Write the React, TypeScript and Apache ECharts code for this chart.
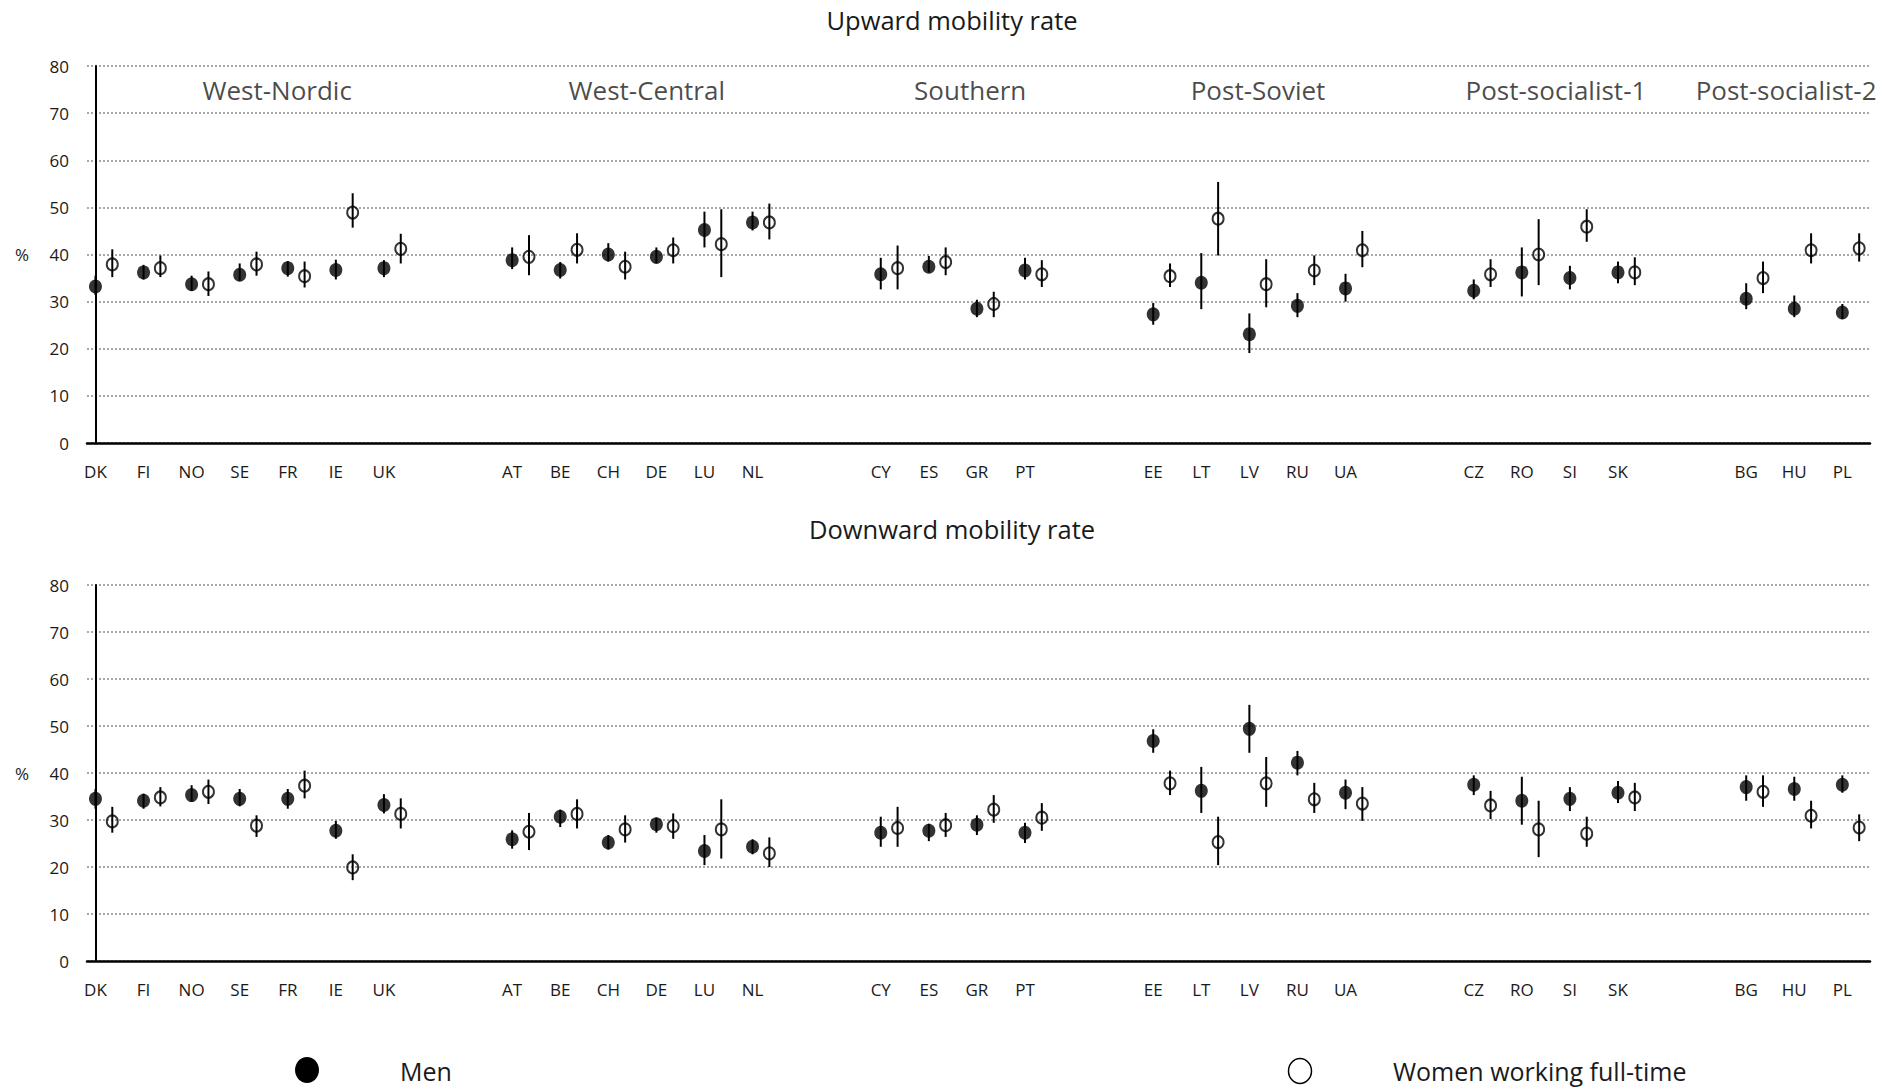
import React, { useEffect, useRef } from "react";
import * as echarts from "echarts";

// ---------- DATA ----------
const groupNames = ["West-Nordic", "West-Central", "Southern", "Post-Soviet", "Post-socialist-1", "Post-socialist-2"];
const groupCountries = [
  ["DK", "FI", "NO", "SE", "FR", "IE", "UK"],
  ["AT", "BE", "CH", "DE", "LU", "NL"],
  ["CY", "ES", "GR", "PT"],
  ["EE", "LT", "LV", "RU", "UA"],
  ["CZ", "RO", "SI", "SK"],
  ["BG", "HU", "PL"],
];
const yTicks = [0, 10, 20, 30, 40, 50, 60, 70, 80];

// Upward mobility rate
const upMen = [33.2, 36.2, 33.7, 35.7, 37.1, 36.7, 37.1, 38.8, 36.7, 40.0, 39.5, 45.2, 46.8, 35.8, 37.4, 28.5, 36.6, 27.3, 34.0, 23.1, 29.1, 32.8, 32.3, 36.2, 35.0, 36.2, 30.6, 28.5, 27.7];
const upMenLo = [31.4, 34.7, 32.3, 34.4, 35.3, 34.7, 35.2, 36.9, 34.9, 38.5, 38.1, 41.5, 45.1, 32.6, 36.2, 26.7, 34.7, 25.1, 28.4, 19.1, 26.7, 30.0, 30.5, 31.1, 32.6, 33.9, 28.4, 26.7, 26.3];
const upMenHi = [35.5, 37.8, 35.5, 38.1, 38.6, 38.9, 38.8, 41.5, 38.4, 42.4, 41.5, 49.1, 49.1, 39.3, 39.7, 30.4, 39.3, 29.7, 40.3, 27.5, 31.8, 35.9, 34.7, 41.5, 37.6, 38.5, 33.9, 31.3, 29.5];
const upWomen = [37.9, 37.1, 33.7, 37.9, 35.4, 48.9, 41.2, 39.5, 41.0, 37.4, 40.9, 42.2, 46.8, 37.1, 38.4, 29.5, 35.8, 35.4, 47.6, 33.7, 36.6, 40.9, 35.8, 40.0, 45.9, 36.2, 35.0, 40.9, 41.3];
const upWomenLo = [35.2, 35.2, 31.2, 35.5, 33.0, 45.7, 38.1, 35.6, 38.1, 34.7, 38.1, 35.2, 43.2, 32.6, 35.6, 26.7, 33.1, 33.1, 39.8, 28.8, 33.5, 37.3, 33.1, 33.5, 42.7, 33.5, 31.8, 38.1, 38.5];
const upWomenHi = [41.1, 39.8, 36.4, 40.6, 38.5, 53.0, 44.4, 44.1, 44.5, 40.6, 43.6, 49.6, 50.8, 41.9, 41.5, 32.1, 38.8, 38.1, 55.4, 39.0, 39.8, 45.0, 39.0, 47.5, 49.6, 39.4, 38.5, 44.5, 44.5];

// Downward mobility rate
const downMen = [34.5, 34.1, 35.3, 34.5, 34.5, 27.7, 33.2, 25.9, 30.7, 25.2, 29.1, 23.4, 24.3, 27.3, 27.7, 29.0, 27.3, 46.8, 36.2, 49.4, 42.2, 35.8, 37.5, 34.1, 34.5, 35.8, 37.0, 36.6, 37.5];
const downMenLo = [32.4, 32.4, 33.9, 32.9, 32.4, 26.0, 31.4, 23.9, 28.5, 23.7, 27.3, 20.4, 22.7, 24.3, 25.5, 26.8, 25.1, 44.3, 31.5, 44.3, 39.5, 32.3, 35.3, 29.0, 31.9, 33.6, 34.1, 34.1, 35.8];
const downMenHi = [36.6, 35.6, 37.4, 36.6, 36.6, 29.8, 35.5, 27.8, 32.2, 26.8, 30.5, 26.8, 25.9, 30.7, 29.2, 31.0, 29.4, 49.3, 41.3, 54.5, 44.7, 38.6, 39.5, 39.2, 37.0, 38.3, 39.5, 39.2, 39.5];
const downWomen = [29.7, 34.8, 36.0, 28.8, 37.3, 19.9, 31.3, 27.5, 31.3, 28.0, 28.7, 28.0, 22.9, 28.3, 28.9, 32.2, 30.5, 37.8, 25.3, 37.8, 34.4, 33.5, 33.1, 28.0, 27.1, 34.8, 36.0, 30.9, 28.4];
const downWomenLo = [27.3, 32.9, 33.4, 26.4, 34.6, 17.2, 28.2, 23.6, 28.2, 25.2, 26.0, 21.8, 20.0, 24.3, 26.4, 29.4, 27.7, 35.3, 20.4, 32.8, 31.5, 29.8, 30.2, 22.1, 24.3, 31.9, 32.8, 28.2, 25.5];
const downWomenHi = [32.8, 37.0, 38.6, 31.0, 40.5, 22.7, 34.6, 31.5, 34.4, 31.0, 31.4, 34.4, 26.3, 32.8, 31.5, 35.3, 33.6, 40.5, 30.7, 43.4, 37.9, 37.0, 36.2, 34.1, 30.7, 37.9, 39.5, 34.1, 31.2];

// ---------- LAYOUT ----------
const GROUP_GAP = 2.667;
const WOMEN_OFFSET = 0.35;
const X_MIN = -0.176;
const X_MAX = 36.91;
const GROUP_LABEL_SHIFT = [3.78, 2.8, 1.86, 2.18, 1.71, 0.83];
const FONT = "'Open Sans', 'Noto Sans', sans-serif";
const TXT = "#1a1a1a";

const countries: string[] = [];
const positions: number[] = [];
const groupStart: number[] = [];
{
  let p = 0;
  groupCountries.forEach((g) => {
    groupStart.push(p);
    g.forEach((c) => {
      countries.push(c);
      positions.push(p);
      p += 1;
    });
    p += GROUP_GAP - 1;
  });
}

function errData(lo: number[], hi: number[], off: number) {
  return lo.map((l, i) => [positions[i] + off, l, hi[i]]);
}
function ptData(v: number[], off: number) {
  return v.map((y, i) => [positions[i] + off, y]);
}

const errRender = (params: any, api: any) => {
  const x = api.value(0);
  const a = api.coord([x, api.value(1)]);
  const b = api.coord([x, api.value(2)]);
  return {
    type: "line",
    shape: { x1: a[0], y1: a[1], x2: b[0], y2: b[1] },
    style: { stroke: "#000", lineWidth: 2 },
  };
};

function panelSeries(idx: number, men: number[], menLo: number[], menHi: number[], women: number[], wLo: number[], wHi: number[]) {
  return [
    {
      type: "custom",
      xAxisIndex: idx,
      yAxisIndex: idx,
      renderItem: errRender,
      encode: { x: 0, y: [1, 2] },
      data: errData(menLo, menHi, 0),
      silent: true,
      z: 3,
    },
    {
      type: "custom",
      xAxisIndex: idx,
      yAxisIndex: idx,
      renderItem: errRender,
      encode: { x: 0, y: [1, 2] },
      data: errData(wLo, wHi, WOMEN_OFFSET),
      silent: true,
      z: 3,
    },
    {
      type: "scatter",
      name: "Men",
      xAxisIndex: idx,
      yAxisIndex: idx,
      symbol: "circle",
      symbolSize: [13, 14],
      itemStyle: { color: "#000" },
      data: ptData(men, 0),
      z: 4,
    },
    {
      type: "scatter",
      name: "Women working full-time",
      xAxisIndex: idx,
      yAxisIndex: idx,
      symbol: "circle",
      symbolSize: [11, 12],
      itemStyle: { color: "rgba(0,0,0,0)", borderColor: "#000", borderWidth: 2 },
      data: ptData(women, WOMEN_OFFSET),
      z: 4,
    },
  ];
}

function xAxisDef(gridIndex: number) {
  return {
    type: "value",
    gridIndex,
    min: X_MIN,
    max: X_MAX,
    splitLine: { show: false },
    axisTick: { show: false },
    axisLine: { show: true, onZero: false, lineStyle: { color: "#000", width: 2.5 } },
    axisLabel: {
      customValues: positions,
      formatter: (v: number) => {
        const i = positions.findIndex((p) => Math.abs(p - v) < 1e-6);
        return i >= 0 ? countries[i] : "";
      },
      fontFamily: FONT,
      fontSize: 17,
      color: TXT,
      margin: 20,
    },
  };
}

function yAxisDef(gridIndex: number) {
  return {
    type: "value",
    gridIndex,
    min: yTicks[0],
    max: yTicks[yTicks.length - 1],
    interval: 10,
    name: "%",
    nameLocation: "middle",
    nameRotate: 0,
    nameGap: 58,
    nameTextStyle: { fontFamily: FONT, fontSize: 17, color: TXT },
    axisLine: { show: true, lineStyle: { color: "#000", width: 2 } },
    axisTick: { show: false },
    axisLabel: { fontFamily: FONT, fontSize: 17, color: TXT, margin: 18 },
    splitLine: { show: true, lineStyle: { color: "#8c8c8c", type: [2, 2], width: 1.5 } },
  };
}

export default function App() {
  const ref = useRef<HTMLDivElement>(null);
  useEffect(() => {
    if (!ref.current) return;
    const chart = echarts.init(ref.current, null, { renderer: "svg" });
    const groupLabelData = groupNames.map((g, i) => ({
      name: g,
      value: [groupStart[i] + GROUP_LABEL_SHIFT[i], 75],
    }));
    chart.setOption({
      animation: false,
      backgroundColor: "#fff",
      textStyle: { fontFamily: FONT },
      grid: [
        { left: 87, right: 24, top: 66, height: 377 },
        { left: 87, right: 24, top: 585, height: 376 },
      ],
      xAxis: [xAxisDef(0), xAxisDef(1)],
      yAxis: [yAxisDef(0), yAxisDef(1)],
      series: [
        ...panelSeries(0, upMen, upMenLo, upMenHi, upWomen, upWomenLo, upWomenHi),
        ...panelSeries(1, downMen, downMenLo, downMenHi, downWomen, downWomenLo, downWomenHi),
        {
          type: "scatter",
          xAxisIndex: 0,
          yAxisIndex: 0,
          symbolSize: 0,
          silent: true,
          data: groupLabelData,
          label: {
            show: true,
            position: "inside",
            formatter: "{b}",
            fontFamily: FONT,
            fontSize: 26,
            color: TXT,
          },
        },
      ],
      graphic: [
        {
          type: "text",
          x: 952,
          y: 20,
          style: { text: "Upward mobility rate", fontFamily: FONT, fontSize: 25.5, fill: TXT, align: "center", verticalAlign: "middle" },
        },
        {
          type: "text",
          x: 952,
          y: 529,
          style: { text: "Downward mobility rate", fontFamily: FONT, fontSize: 25.5, fill: TXT, align: "center", verticalAlign: "middle" },
        },
        { type: "ellipse", shape: { cx: 307, cy: 1070, rx: 12, ry: 13 }, style: { fill: "#000" } },
        {
          type: "text",
          x: 400,
          y: 1071,
          style: { text: "Men", fontFamily: FONT, fontSize: 25, fill: TXT, align: "left", verticalAlign: "middle" },
        },
        { type: "ellipse", shape: { cx: 1300, cy: 1071, rx: 11.5, ry: 12.5 }, style: { fill: "#fff", stroke: "#000", lineWidth: 1.5 } },
        {
          type: "text",
          x: 1393,
          y: 1071,
          style: { text: "Women working full-time", fontFamily: FONT, fontSize: 25, fill: TXT, align: "left", verticalAlign: "middle" },
        },
      ],
    });
    return () => chart.dispose();
  }, []);
  return <div ref={ref} style={{ position: "fixed", left: 0, top: 0, width: 1894, height: 1089 }} />;
}
